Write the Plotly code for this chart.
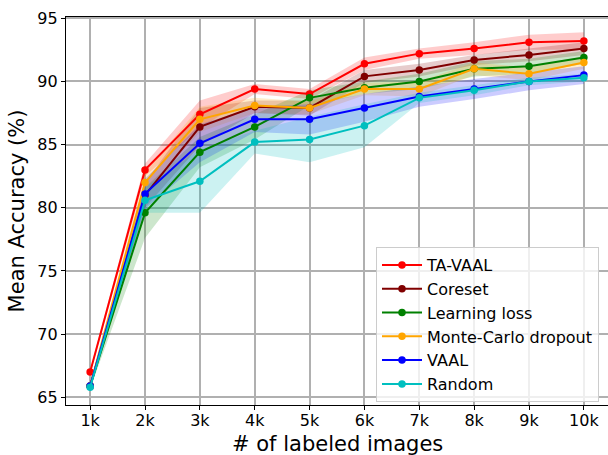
import plotly.graph_objects as go

budgets = [1, 2, 3, 4, 5, 6, 7, 8, 9, 10]
tick_labels = ["1k", "2k", "3k", "4k", "5k", "6k", "7k", "8k", "9k", "10k"]
y_ticks = [65, 70, 75, 80, 85, 90, 95]

methods = ["TA-VAAL", "Coreset", "Learning loss", "Monte-Carlo dropout", "VAAL", "Random"]

ta_vaal_mean = [67.0, 83.0, 87.4, 89.4, 89.0, 91.4, 92.2, 92.6, 93.1, 93.2]
ta_vaal_std = [0.2, 0.5, 1.1, 0.4, 0.4, 0.5, 0.4, 0.5, 0.6, 0.7]

coreset_mean = [65.9, 81.0, 86.4, 88.0, 87.9, 90.4, 90.9, 91.7, 92.1, 92.6]
coreset_std = [0.2, 1.0, 1.5, 0.5, 0.6, 0.5, 0.5, 0.4, 0.5, 0.5]

lloss_mean = [65.9, 79.6, 84.4, 86.4, 88.7, 89.5, 90.0, 91.0, 91.2, 91.9]
lloss_std = [0.2, 2.0, 1.2, 1.0, 0.6, 0.5, 0.6, 0.6, 0.6, 0.5]

mcd_mean = [65.9, 82.0, 87.0, 88.1, 87.9, 89.4, 89.4, 91.0, 90.6, 91.5]
mcd_std = [0.2, 0.8, 1.0, 0.6, 0.5, 0.5, 0.6, 0.5, 0.5, 0.5]

vaal_mean = [65.9, 81.1, 85.1, 87.0, 87.0, 87.9, 88.8, 89.4, 90.0, 90.5]
vaal_std = [0.2, 1.2, 1.5, 1.0, 1.2, 1.1, 0.8, 0.8, 0.7, 0.7]

random_mean = [65.8, 80.6, 82.1, 85.2, 85.4, 86.5, 88.7, 89.3, 90.0, 90.3]
random_std = [0.2, 1.0, 2.5, 0.9, 1.8, 1.7, 0.4, 0.4, 0.3, 0.3]

means = [ta_vaal_mean, coreset_mean, lloss_mean, mcd_mean, vaal_mean, random_mean]
stds = [ta_vaal_std, coreset_std, lloss_std, mcd_std, vaal_std, random_std]
colors = ["#ff0000", "#800000", "#008000", "#ffa500", "#0000ff", "#00bfbf"]
fills = ["rgba(255,0,0,0.2)", "rgba(128,0,0,0.2)", "rgba(0,128,0,0.2)",
         "rgba(255,165,0,0.2)", "rgba(0,0,255,0.2)", "rgba(0,191,191,0.2)"]

fig = go.Figure()

# bands first (below all lines)
for m, s, fc in zip(means, stds, fills):
    upper = [a + b for a, b in zip(m, s)]
    lower = [a - b for a, b in zip(m, s)]
    fig.add_trace(go.Scatter(
        x=budgets + budgets[::-1], y=upper + lower[::-1],
        fill="toself", fillcolor=fc, line=dict(width=0),
        mode="lines", showlegend=False, hoverinfo="skip"))

for name, m, c in zip(methods, means, colors):
    fig.add_trace(go.Scatter(
        x=budgets, y=m, name=name, mode="lines+markers",
        line=dict(color=c, width=2), marker=dict(color=c, size=7.5)))

fig.update_layout(
    width=608, height=455,
    margin=dict(l=66, r=0, t=17, b=50),
    paper_bgcolor="white", plot_bgcolor="white",
    font=dict(family="DejaVu Sans", size=16, color="black"),
    legend=dict(
        x=(376 - 66) / 542, y=(405 - 247) / 388, xanchor="left", yanchor="top",
        bgcolor="rgba(255,255,255,0.8)", bordercolor="#cccccc", borderwidth=1,
        font=dict(size=16), tracegroupgap=0, itemwidth=40),
    annotations=[dict(
        text="# of labeled images", xref="paper", yref="paper",
        x=0.5, y=-(444 - 405) / 388.3, xanchor="center", yanchor="middle",
        showarrow=False, font=dict(size=21))],
)
fig.update_xaxes(
    range=[0.56, 10.44], tickvals=budgets, ticktext=tick_labels,
    showgrid=True, gridcolor="#b0b0b0", gridwidth=1.5,
    showline=True, linecolor="black", linewidth=1.2, mirror=True,
    ticks="outside", ticklen=4, tickcolor="black", tickwidth=1.2,
    ticklabelstandoff=-3,
    zeroline=False)
fig.update_yaxes(
    range=[64.39, 95.1], tickvals=y_ticks,
    showgrid=True, gridcolor="#b0b0b0", gridwidth=1.5,
    showline=True, linecolor="black", linewidth=1.2,
    ticks="outside", ticklen=4, tickcolor="black", tickwidth=1.2,
    title=dict(text="Mean Accuracy (%)", font=dict(size=21), standoff=6),
    zeroline=False)

fig.write_html("out.html")
